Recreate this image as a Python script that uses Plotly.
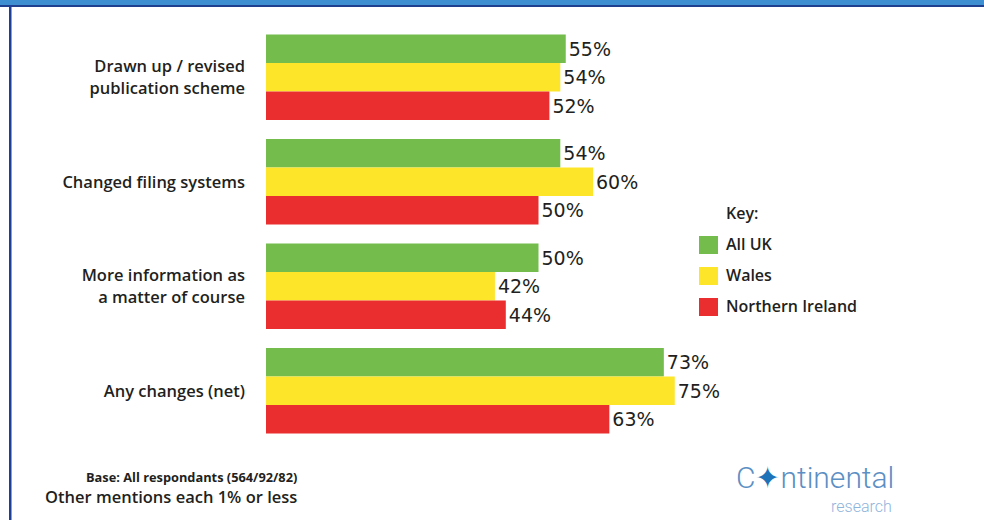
import plotly.graph_objects as go

# Survey data
categories = [
    "Drawn up / revised<br>publication scheme",
    "Changed filing systems",
    "More information as<br>a matter of course",
    "Any changes (net)",
]
series_names = ["All UK", "Wales", "Northern Ireland"]
all_uk = [55, 54, 50, 73]
wales = [54, 60, 42, 75]
northern_ireland = [52, 50, 44, 63]
series_values = [all_uk, wales, northern_ireland]
series_colors = ["#74bd4c", "#fde52a", "#ea2e2f"]

TEXT = "#231f20"
LABEL_FONT = "Open Sans"

# Pixel geometry of the plotting area
W, H = 984, 520
M_L, M_R, M_T, M_B = 266, 173, 25, 77
plot_w = W - M_L - M_R
plot_h = H - M_T - M_B

fig = go.Figure()
for name, vals, col in zip(series_names, series_values, series_colors):
    fig.add_trace(go.Bar(
        y=categories,
        x=vals,
        name=name,
        orientation="h",
        marker=dict(color=col, line=dict(width=0)),
        text=[f"{v}%" for v in vals],
        textposition="outside",
        cliponaxis=False,
        textfont=dict(family="DejaVu Sans", size=19, color=TEXT),
        showlegend=False,
    ))

fig.update_layout(
    width=W,
    height=H,
    margin=dict(l=M_L, r=M_R, t=M_T, b=M_B),
    paper_bgcolor="white",
    plot_bgcolor="white",
    barmode="group",
    bargap=0.18,
    bargroupgap=0,
    xaxis=dict(range=[0, 100], visible=False, fixedrange=True),
    yaxis=dict(
        autorange="reversed",
        showgrid=False,
        zeroline=False,
        showline=False,
        ticks="",
        ticklabelstandoff=20,
        tickfont=dict(family=LABEL_FONT, size=16.5, color=TEXT, weight=600),
    ),
)


def px_x(x):
    return (x - M_L) / plot_w


def px_y(y):
    return (H - M_B - y) / plot_h


# Frame: blue band along the top and a rule down the left edge
fig.add_shape(type="rect", xref="x domain", yref="y domain",
              x0=px_x(0), x1=px_x(W), y0=px_y(5), y1=px_y(-2),
              line=dict(width=0), fillcolor="#3e8fd2", layer="above")
fig.add_shape(type="rect", xref="x domain", yref="y domain",
              x0=px_x(0), x1=px_x(W), y0=px_y(7), y1=px_y(5),
              line=dict(width=0), fillcolor="#1f3f8f", layer="above")
fig.add_shape(type="rect", xref="x domain", yref="y domain",
              x0=px_x(9), x1=px_x(11.5), y0=px_y(H + 2), y1=px_y(5),
              line=dict(width=0), fillcolor="#1d3f99", layer="above")

# Key
fig.add_annotation(xref="x domain", yref="y domain", x=px_x(724), y=px_y(213),
                   text="Key:", showarrow=False, xanchor="left", yanchor="middle",
                   font=dict(family=LABEL_FONT, size=16, color=TEXT, weight=600))
key_rows = [245, 276, 307]
for name, col, yc in zip(series_names, series_colors, key_rows):
    fig.add_shape(type="rect", xref="x domain", yref="y domain",
                  x0=px_x(699), x1=px_x(718), y0=px_y(yc + 9), y1=px_y(yc - 9),
                  line=dict(width=0), fillcolor=col)
    fig.add_annotation(xref="x domain", yref="y domain", x=px_x(724), y=px_y(yc - 1),
                       text=name, showarrow=False, xanchor="left", yanchor="middle",
                       font=dict(family=LABEL_FONT, size=16, color=TEXT, weight=600))

# Footnotes
fig.add_annotation(xref="x domain", yref="y domain", x=px_x(299), y=px_y(477),
                   text="Base: All respondants (564/92/82)", showarrow=False,
                   xanchor="right", yanchor="middle",
                   font=dict(family=LABEL_FONT, size=12.8, color=TEXT, weight=700))
fig.add_annotation(xref="x domain", yref="y domain", x=px_x(299), y=px_y(496),
                   text="Other mentions each 1% or less", showarrow=False,
                   xanchor="right", yanchor="middle",
                   font=dict(family=LABEL_FONT, size=16.5, color=TEXT, weight=600))

# Company mark
fig.add_annotation(xref="x domain", yref="y domain", x=px_x(734), y=px_y(477),
                   text="C<span style='color:#1e73b8'>✦</span>ntinental", showarrow=False,
                   xanchor="left", yanchor="middle",
                   font=dict(family="Roboto", size=30, color="#5c8fc4", weight=300))
fig.add_annotation(xref="x domain", yref="y domain", x=px_x(894), y=px_y(507),
                   text="research", showarrow=False, xanchor="right", yanchor="middle",
                   font=dict(family="Roboto", size=16, color="#8fb4dc", weight=300))

fig.write_html("out.html")
